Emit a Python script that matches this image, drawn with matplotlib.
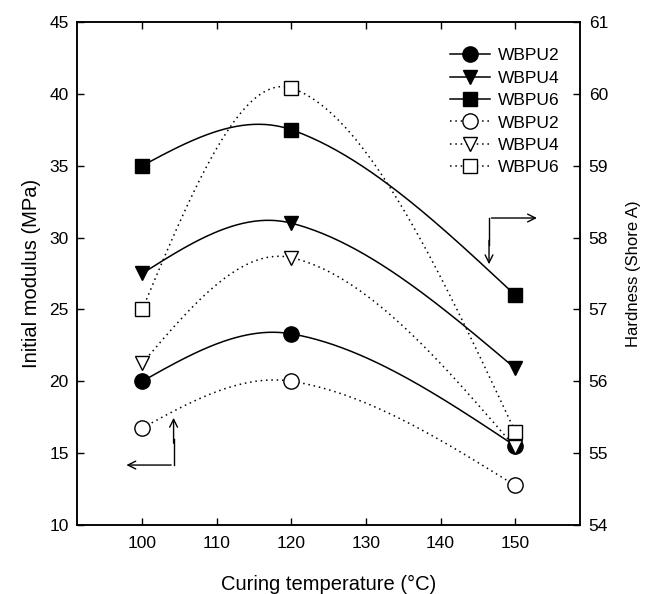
import numpy as np
import matplotlib
matplotlib.use('Agg')
import matplotlib.pyplot as plt
from matplotlib.lines import Line2D

plt.rcParams['font.family'] = ['Liberation Sans', 'DejaVu Sans']

temps = [100, 120, 150]
series = ['WBPU2', 'WBPU4', 'WBPU6']
markers = ['o', 'v', 's']

# initial modulus (MPa), left axis
modulus = {
    'WBPU2': [20.0, 23.3, 15.5],
    'WBPU4': [27.5, 31.0, 20.9],
    'WBPU6': [35.0, 37.5, 26.0],
}
# hardness (Shore A), right axis
hardness = {
    'WBPU2': [55.35, 56.0, 54.55],
    'WBPU4': [56.25, 57.72, 55.08],
    'WBPU6': [57.0, 60.08, 55.3],
}


def smooth(x, y, n=80):
    # cubic hermite through the points, chord-based tangents
    x = np.asarray(x, float)
    y = np.asarray(y, float)
    d = np.diff(y) / np.diff(x)
    m = np.zeros_like(y)
    for i in range(1, len(x) - 1):
        m[i] = (y[i + 1] - y[i - 1]) / (x[i + 1] - x[i - 1])
    m[0] = (3 * d[0] - m[1]) / 2
    m[-1] = (3 * d[-1] - m[-2]) / 2
    xs, ys = [], []
    for i in range(len(x) - 1):
        h = x[i + 1] - x[i]
        s = np.linspace(0, 1, n)
        h00 = 2 * s**3 - 3 * s**2 + 1
        h10 = s**3 - 2 * s**2 + s
        h01 = -2 * s**3 + 3 * s**2
        h11 = s**3 - s**2
        xs.append(x[i] + s * h)
        ys.append(h00 * y[i] + h10 * h * m[i] + h01 * y[i + 1] + h11 * h * m[i + 1])
    return np.concatenate(xs), np.concatenate(ys)


fig = plt.figure(figsize=(6.45, 5.94), dpi=100)
ax = fig.add_axes([0.1194, 0.1162, 0.7804, 0.8468])
ax2 = ax.twinx()

ms = {'o': 11, 'v': 10.5, 's': 9.5}
handles = []
for name, mk in zip(series, markers):
    sx, sy = smooth(temps, modulus[name])
    ax.plot(sx, sy, color='black', lw=1.1, zorder=2)
    ax.plot(temps, modulus[name], ls='none', marker=mk, ms=ms[mk],
            color='black', mfc='black', zorder=3)
    handles.append(Line2D([], [], color='black', lw=1.1, marker=mk,
                          ms=ms[mk], mfc='black', label=name))
for name, mk in zip(series, markers):
    sx, sy = smooth(temps, hardness[name])
    ax2.plot(sx, sy, color='black', lw=1.1, ls=(0, (1, 2.5)), zorder=2)
    ax2.plot(temps, hardness[name], ls='none', marker=mk, ms=ms[mk],
             color='black', mfc='white', mew=1.0, zorder=3)
    handles.append(Line2D([], [], color='black', lw=1.1, ls=(0, (1, 2.5)),
                          marker=mk, ms=ms[mk], mfc='white', mew=1.0,
                          label=name))

ax.set_xlim(91.25, 158.75)
ax.set_ylim(10, 45)
ax2.set_ylim(54, 61)
ax.set_xticks([100, 110, 120, 130, 140, 150])
ax.set_yticks(range(10, 46, 5))
ax2.set_yticks(range(54, 62))

ax.tick_params(direction='in', top=True, right=False, labelsize=12.5,
               length=5, width=1, pad=6)
ax.tick_params(axis='x', pad=8)
ax2.tick_params(direction='in', labelsize=12.5, length=5, width=1, pad=6)
for a in (ax, ax2):
    for sp in a.spines.values():
        sp.set_linewidth(1.1)

ax.set_xlabel('Curing temperature (°C)', fontsize=14.5, labelpad=17)
ax.set_ylabel('Initial modulus (MPa)', fontsize=14.5, labelpad=6)
ax2.set_ylabel('Hardness (Shore A)', fontsize=12, labelpad=13)

# axis-pointer arrows
arr = dict(arrowstyle='->', color='black', lw=1.0, mutation_scale=14)
ax.plot([104.2, 104.2], [14.17, 16.0], color='black', lw=1.0)
ax.annotate('', xy=(104.2, 17.65), xytext=(104.2, 15.5), arrowprops=arr)
ax.annotate('', xy=(97.5, 14.17), xytext=(104.25, 14.17), arrowprops=arr)
ax.plot([146.5, 146.5], [31.36, 29.5], color='black', lw=1.0)
ax.annotate('', xy=(146.5, 27.95), xytext=(146.5, 30.0), arrowprops=arr)
ax.annotate('', xy=(153.3, 31.36), xytext=(146.45, 31.36), arrowprops=arr)

leg = ax2.legend(handles=handles, loc='upper left',
                 bbox_to_anchor=(0.728, 0.962), frameon=False,
                 fontsize=12.5, handlelength=2.3, handletextpad=0.46,
                 labelspacing=0.42, borderaxespad=0)
leg.set_zorder(5)

fig.savefig('out.png', dpi=100)
